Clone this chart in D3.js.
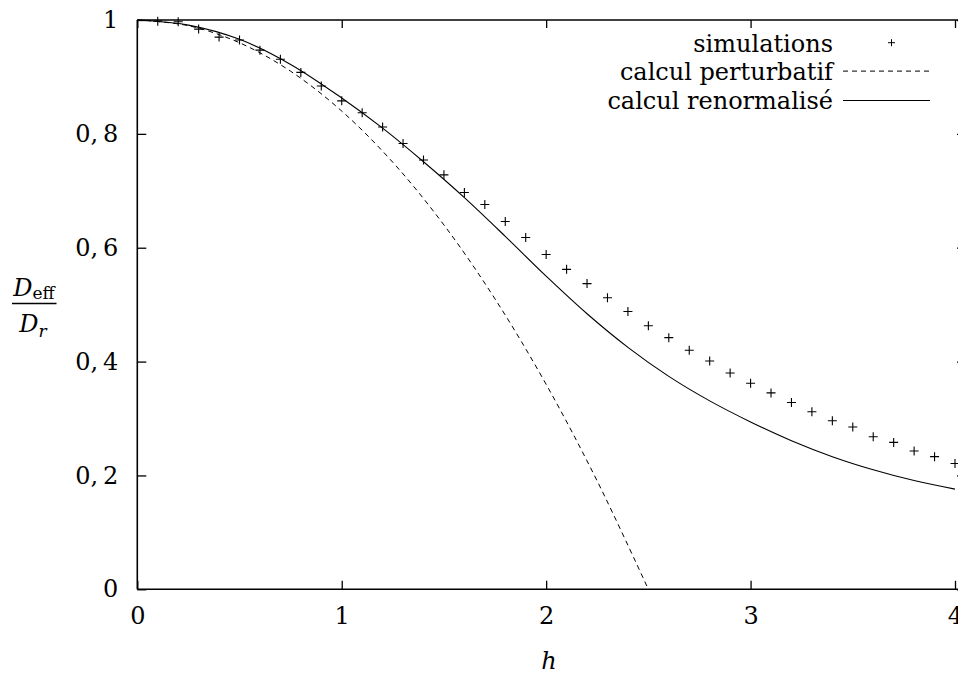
<!DOCTYPE html>
<html><head><meta charset="utf-8">
<script src="https://cdn.jsdelivr.net/npm/d3@7"></script>
<style>
html,body{margin:0;padding:0;background:#fff;}
svg{display:block;}
text{font-family:"DejaVu Serif",serif;fill:#000;}
</style></head>
<body><svg id="chart" width="958" height="674"></svg>
<script>
// ---- data ----
const simH = [0.1,0.2,0.3,0.4,0.5,0.6,0.7,0.8,0.9,1.0,1.1,1.2,1.3,1.4,1.5,1.6,1.7,1.8,1.9,2.0,2.1,2.2,2.3,2.4,2.5,2.6,2.7,2.8,2.9,3.0,3.1,3.2,3.3,3.4,3.5,3.6,3.7,3.8,3.9,4.0];
const simD = [0.998,0.997,0.984,0.970,0.965,0.947,0.931,0.908,0.884,0.858,0.837,0.812,0.783,0.754,0.728,0.697,0.676,0.646,0.618,0.588,0.562,0.537,0.512,0.488,0.463,0.442,0.420,0.401,0.380,0.362,0.345,0.328,0.312,0.296,0.285,0.268,0.258,0.243,0.233,0.221];
const pertH = [0,0.25,0.5,0.75,1.0,1.25,1.5,1.75,2.0,2.25,2.5];
const pertD = [1.0,0.990,0.960,0.910,0.840,0.750,0.640,0.510,0.360,0.190,0.0];
const renH = [0,0.25,0.5,0.75,1.0,1.2,1.4,1.6,1.8,2.0,2.2,2.4,2.6,2.8,3.0,3.2,3.4,3.6,3.8,4.0];
const renD = [1.0,0.991,0.966,0.922,0.863,0.810,0.751,0.688,0.620,0.550,0.484,0.425,0.374,0.331,0.294,0.261,0.233,0.210,0.191,0.176];
const xTicks = [0,1,2,3,4];
const xTickLabels = ["0","1","2","3","4"];
const yTicks = [0,0.2,0.4,0.6,0.8,1];
const yTickLabels = ["0","0,\u20092","0,\u20094","0,\u20096","0,\u20098","1"];
const legendLabels = ["simulations","calcul perturbatif","calcul renormalisé"];

// ---- layout ----
const svg = d3.select("#chart");
const x = d3.scaleLinear().domain([0,4]).range([137.3,955]);
const y = d3.scaleLinear().domain([0,1]).range([589.3,20]);
const FS = 24;

// curves
const line = d3.line().x(d=>x(d[0])).y(d=>y(d[1])).curve(d3.curveCatmullRom.alpha(0.5));
svg.append("path").datum(pertH.map((h,i)=>[h,pertD[i]]))
  .attr("d",line).attr("fill","none").attr("stroke","#000")
  .attr("stroke-width",1).attr("stroke-dasharray","5,4");
svg.append("path").datum(renH.map((h,i)=>[h,renD[i]]))
  .attr("d",line).attr("fill","none").attr("stroke","#000")
  .attr("stroke-width",1.1);

// simulation points
const plus = "M-4.5,0H4.5M0,-4.5V4.5";
svg.append("g").selectAll("path").data(simH.map((h,i)=>[h,simD[i]])).join("path")
  .attr("transform",d=>`translate(${x(d[0])},${y(d[1])})`)
  .attr("d",plus).attr("stroke","#000").attr("stroke-width",1.1).attr("fill","none");

// axes
const gx = svg.append("g").attr("transform",`translate(0,${y(0)})`)
  .call(d3.axisBottom(x).tickValues(xTicks).tickFormat((d,i)=>xTickLabels[i])
    .tickSizeInner(-8.5).tickSizeOuter(0).tickPadding(18));
const gy = svg.append("g").attr("transform",`translate(${x(0)},0)`)
  .call(d3.axisLeft(y).tickValues(yTicks).tickFormat((d,i)=>yTickLabels[i])
    .tickSizeInner(-9).tickSizeOuter(0).tickPadding(19));
const gt = svg.append("g").attr("transform",`translate(0,${y(1)})`)
  .call(d3.axisTop(x).tickValues(xTicks).tickFormat("").tickSizeInner(-8).tickSizeOuter(0));
const gr = svg.append("g").attr("transform",`translate(966,0)`)
  .call(d3.axisRight(y).tickValues(yTicks).tickFormat("").tickSizeInner(-9).tickSizeOuter(0));
[gx,gy,gt,gr].forEach(g=>{
  g.select(".domain").remove();
  g.selectAll("line").attr("stroke","#000").attr("stroke-width",1.3);
  g.selectAll("text").attr("font-family","DejaVu Serif").attr("font-size",FS).attr("fill","#000");
});

// frame
const frame = svg.append("g").attr("stroke","#000").attr("stroke-width",1.6).attr("fill","none");
frame.append("line").attr("x1",x(0)).attr("x2",966).attr("y1",y(1)).attr("y2",y(1));
frame.append("line").attr("x1",x(0)).attr("x2",966).attr("y1",y(0)).attr("y2",y(0));
frame.append("line").attr("x1",x(0)).attr("x2",x(0)).attr("y1",y(1)).attr("y2",y(0));

// legend
const lg = svg.append("g");
const baselines = [51.7,80.1,108.5];
legendLabels.forEach((t,i)=>{
  lg.append("text").attr("x",833).attr("y",baselines[i]).attr("text-anchor","end")
    .attr("font-size",FS).text(t);
});
lg.append("path").attr("transform",`translate(891.5,${baselines[0]-9})`)
  .attr("d","M-3.5,0H3.5M0,-3.5V3.5").attr("stroke","#000").attr("stroke-width",1);
lg.append("line").attr("x1",843).attr("x2",930).attr("y1",baselines[1]-9).attr("y2",baselines[1]-9)
  .attr("stroke","#000").attr("stroke-width",1).attr("stroke-dasharray","5,4");
lg.append("line").attr("x1",843).attr("x2",930).attr("y1",baselines[2]-8).attr("y2",baselines[2]-8)
  .attr("stroke","#000").attr("stroke-width",1.1);

// axis titles
const num = svg.append("text").attr("x",34).attr("y",296).attr("text-anchor","middle");
num.append("tspan").attr("font-style","italic").attr("font-size",FS).text("D");
num.append("tspan").attr("font-size",17).attr("dy",3).text("eff");
svg.append("line").attr("x1",12).attr("x2",56.5).attr("y1",303.5).attr("y2",303.5)
  .attr("stroke","#000").attr("stroke-width",1.6);
const den = svg.append("text").attr("x",33).attr("y",332).attr("text-anchor","middle");
den.append("tspan").attr("font-style","italic").attr("font-size",FS).text("D");
den.append("tspan").attr("font-style","italic").attr("font-size",17).attr("dy",5).text("r");

svg.append("text").attr("x",549).attr("y",669).attr("text-anchor","middle")
  .attr("font-style","italic").attr("font-size",FS).text("h");
</script></body></html>
